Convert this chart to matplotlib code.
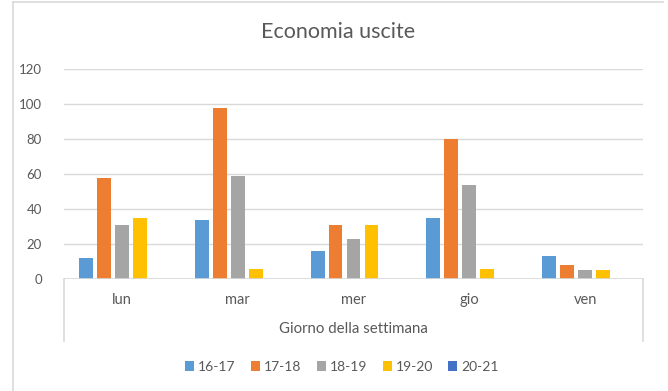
import matplotlib.pyplot as plt
import numpy as np
from matplotlib.lines import Line2D

plt.rcParams['font.family'] = ['Lato', 'DejaVu Sans']

giorni = ['lun', 'mar', 'mer', 'gio', 'ven']
fasce = ['16-17', '17-18', '18-19', '19-20', '20-21']
v_16_17 = [12, 34, 16, 35, 13]
v_17_18 = [58, 98, 31, 80, 8]
v_18_19 = [31, 59, 23, 54, 5]
v_19_20 = [35, 6, 31, 6, 5]
v_20_21 = [0, 0, 0, 0, 0]
colori = ['#5B9BD5', '#ED7D31', '#A5A5A5', '#FFC000', '#4472C4']

serie = [v_16_17, v_17_18, v_18_19, v_19_20, v_20_21]
grigio = '#595959'

fig = plt.figure(figsize=(6.68, 3.91), dpi=100)
ax = fig.add_axes([64/668, 1-279/391, (643-64)/668, 210/391])

x = np.arange(len(giorni))
passo = 0.155
larg = 0.12
for i, (vals, nome, col) in enumerate(zip(serie, fasce, colori)):
    ax.bar(x + (i-2)*passo, vals, larg, color=col, label=nome, zorder=3)

ax.set_xlim(-0.5, 4.5)
ax.set_ylim(0, 120)
ax.set_yticks(range(0, 121, 20))
ax.yaxis.grid(True, color='#D9D9D9', lw=1, zorder=0)
for s in ax.spines.values():
    s.set_visible(False)
ax.axhline(0, color='#D9D9D9', lw=1.2, zorder=4)
ax.tick_params(axis='y', length=0, pad=16, labelsize=9.5, labelcolor=grigio)
ax.tick_params(axis='x', length=0, pad=10, labelsize=10.5, labelcolor=grigio)
ax.set_xticks(x)
ax.set_xticklabels(giorni)

# riquadro sotto l'asse delle categorie
h = (341-279)/210
for xx in (0, 1):
    ax.add_line(Line2D([xx, xx], [0, -h], transform=ax.transAxes,
                       color='#D9D9D9', lw=1.2, clip_on=False))

ax.set_xlabel('Giorno della settimana', fontsize=10.8, color=grigio, labelpad=11)

fig.text(338/668, 1-32/391, 'Economia uscite', ha='center', va='center',
         fontsize=15.5, color=grigio)

fig.legend(loc='center', bbox_to_anchor=(342/668, 1-367/391), ncol=5,
           frameon=False, fontsize=10, labelcolor=grigio,
           handlelength=0.65, handleheight=0.65, handletextpad=0.3,
           columnspacing=1.1)

# bordo del grafico
fig.add_artist(Line2D([13/668, 13/668], [0, 1-2/391], color='#D9D9D9', lw=1.2))
fig.add_artist(Line2D([13/668, 663/668], [1-2/391, 1-2/391], color='#D9D9D9', lw=1.2))

fig.savefig('out.png', dpi=100)
